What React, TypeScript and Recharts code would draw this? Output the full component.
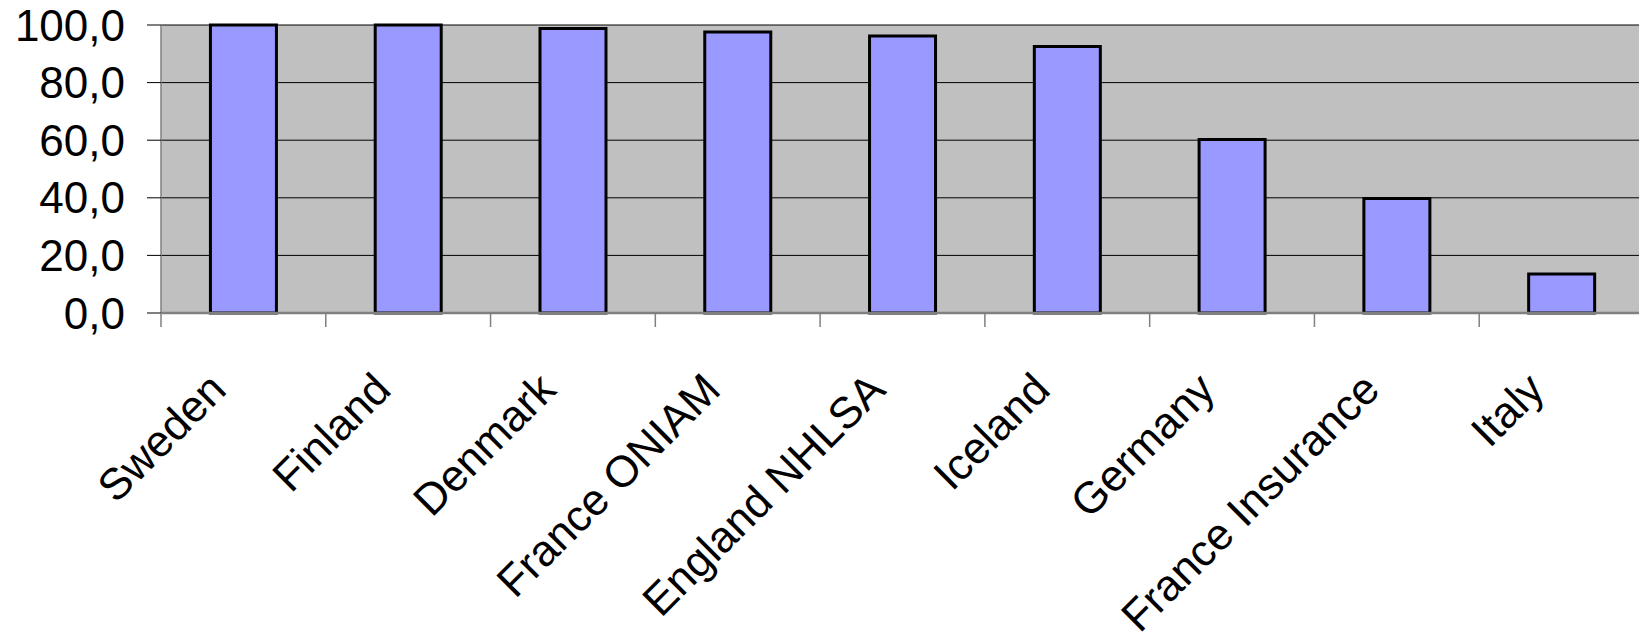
import { BarChart, Bar, XAxis, YAxis, CartesianGrid } from "recharts";

const categories = [
  "Sweden",
  "Finland",
  "Denmark",
  "France ONIAM",
  "England NHLSA",
  "Iceland",
  "Germany",
  "France Insurance",
  "Italy",
];
const values = [100, 100, 98.8, 97.6, 96.2, 92.5, 60.2, 39.8, 13.5];
const yTicks = [0, 20, 40, 60, 80, 100];

const data = categories.map((name, i) => ({ name, value: values[i] }));

const FONT = "'Liberation Sans', Arial, sans-serif";
const CHART_W = 1660;
const CHART_H = 639;
const Y_AXIS_W = 161;
const MARGIN = { top: 25, right: 16, left: 0, bottom: 0 };
const BAND = (CHART_W - MARGIN.left - MARGIN.right - Y_AXIS_W) / categories.length;

const fmt = (v: number) => v.toFixed(1).replace(".", ",");

function CategoryTick(props: any) {
  const { x, y, payload } = props;
  const ax = x - 15;
  const ay = y + 79;
  return (
    <g>
      <line x1={x - BAND / 2} x2={x - BAND / 2} y1={y} y2={y + 14} stroke="#808080" strokeWidth={1.5} />
      <text
        x={ax}
        y={ay}
        transform={`rotate(-45, ${ax}, ${ay})`}
        textAnchor="end"
        fontSize={44}
        fontFamily={FONT}
        fill="#000"
      >
        {payload.value}
      </text>
    </g>
  );
}

export default function App() {
  return (
    <div
      style={{
        position: "absolute",
        left: 0,
        top: 0,
        width: 1639,
        height: 639,
        overflow: "hidden",
        background: "#fff",
      }}
    >
      <BarChart width={CHART_W} height={CHART_H} data={data} margin={MARGIN} barCategoryGap="30%">
        <CartesianGrid vertical={false} stroke="#000" fill="#C0C0C0" />
        <XAxis
          dataKey="name"
          interval={0}
          height={326}
          tickSize={0}
          tickMargin={0}
          tickLine={false}
          axisLine={{ stroke: "#808080", strokeWidth: 2.5 }}
          tick={<CategoryTick />}
        />
        <XAxis
          xAxisId="top"
          dataKey="name"
          orientation="top"
          height={0}
          tick={false}
          tickLine={false}
          axisLine={{ stroke: "#808080", strokeWidth: 3 }}
        />
        <YAxis
          domain={[0, 100]}
          ticks={yTicks}
          width={Y_AXIS_W}
          tickSize={14}
          tickMargin={22}
          tickFormatter={fmt}
          tickLine={{ stroke: "#000" }}
          axisLine={{ stroke: "#808080", strokeWidth: 1.5 }}
          tick={{ fontSize: 44, fill: "#000", fontFamily: FONT }}
        />
        <Bar dataKey="value" fill="#9999FF" stroke="#000" strokeWidth={3} isAnimationActive={false} />
      </BarChart>
    </div>
  );
}
